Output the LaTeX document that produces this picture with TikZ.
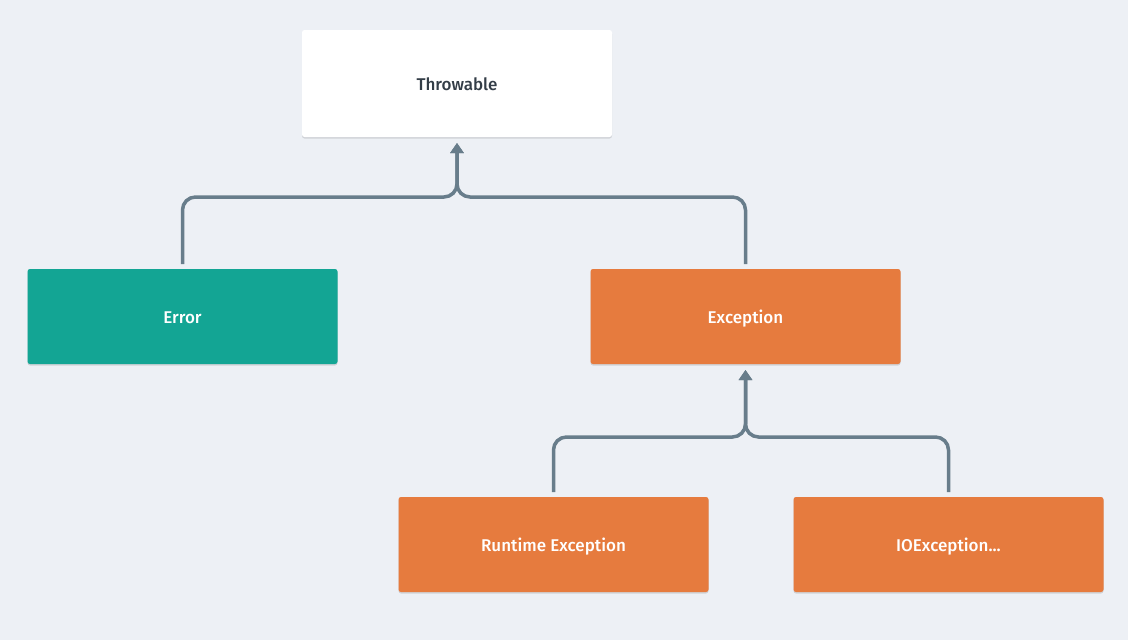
\documentclass[tikz,border=0pt]{standalone}
\usepackage{fontspec}
\newfontfamily\lblfont{Fira Sans}[UprightFont=* Medium]
\usetikzlibrary{arrows.meta,shadows}
\definecolor{bgc}{HTML}{EDF0F5}
\definecolor{tealc}{HTML}{13A594}
\definecolor{orangec}{HTML}{E67B3E}
\definecolor{linec}{HTML}{687D8B}
\definecolor{txtdark}{HTML}{333D47}
\tikzset{
  box/.style={rectangle, rounded corners=2.5pt, minimum width=310pt, minimum height=95pt,
    inner sep=0pt, outer sep=0pt, font=\lblfont\fontsize{17}{20}\selectfont,
    text height=14pt, text depth=1pt,
    drop shadow={shadow xshift=0pt, shadow yshift=-1.5pt, opacity=0.12, fill=black}},
  whitebox/.style={box, fill=white, text=txtdark, minimum height=107pt},
  tealbox/.style={box, fill=tealc, text=white},
  orangebox/.style={box, fill=orangec, text=white},
  conn/.style={draw=linec, line width=3.5pt, rounded corners=13pt,
    -{Triangle[width=13pt,length=10pt]}, shorten <=5pt, shorten >=6pt}
}
\begin{document}
\begin{tikzpicture}[x=1pt,y=-1pt]
\fill[bgc] (0,0) rectangle (1128,640);
\useasboundingbox (0,0) rectangle (1128,640);
\node[whitebox] (thr) at (457,83.5) {Throwable};
\node[tealbox] (err) at (182.5,316.5) {Error};
\node[orangebox] (exc) at (745.5,316.5) {Exception};
\node[orangebox] (rte) at (553.5,544.5) {Runtime Exception};
\node[orangebox] (ioe) at (948.5,544.5) {IOException...};
\coordinate (j1) at (457,197);
\coordinate (j2) at (745.5,437);
\draw[conn] (err.north) |- (j1) -- (thr.south);
\draw[conn] (exc.north) |- (j1) -- (thr.south);
\draw[conn] (rte.north) |- (j2) -- (exc.south);
\draw[conn] (ioe.north) |- (j2) -- (exc.south);
\end{tikzpicture}
\end{document}
